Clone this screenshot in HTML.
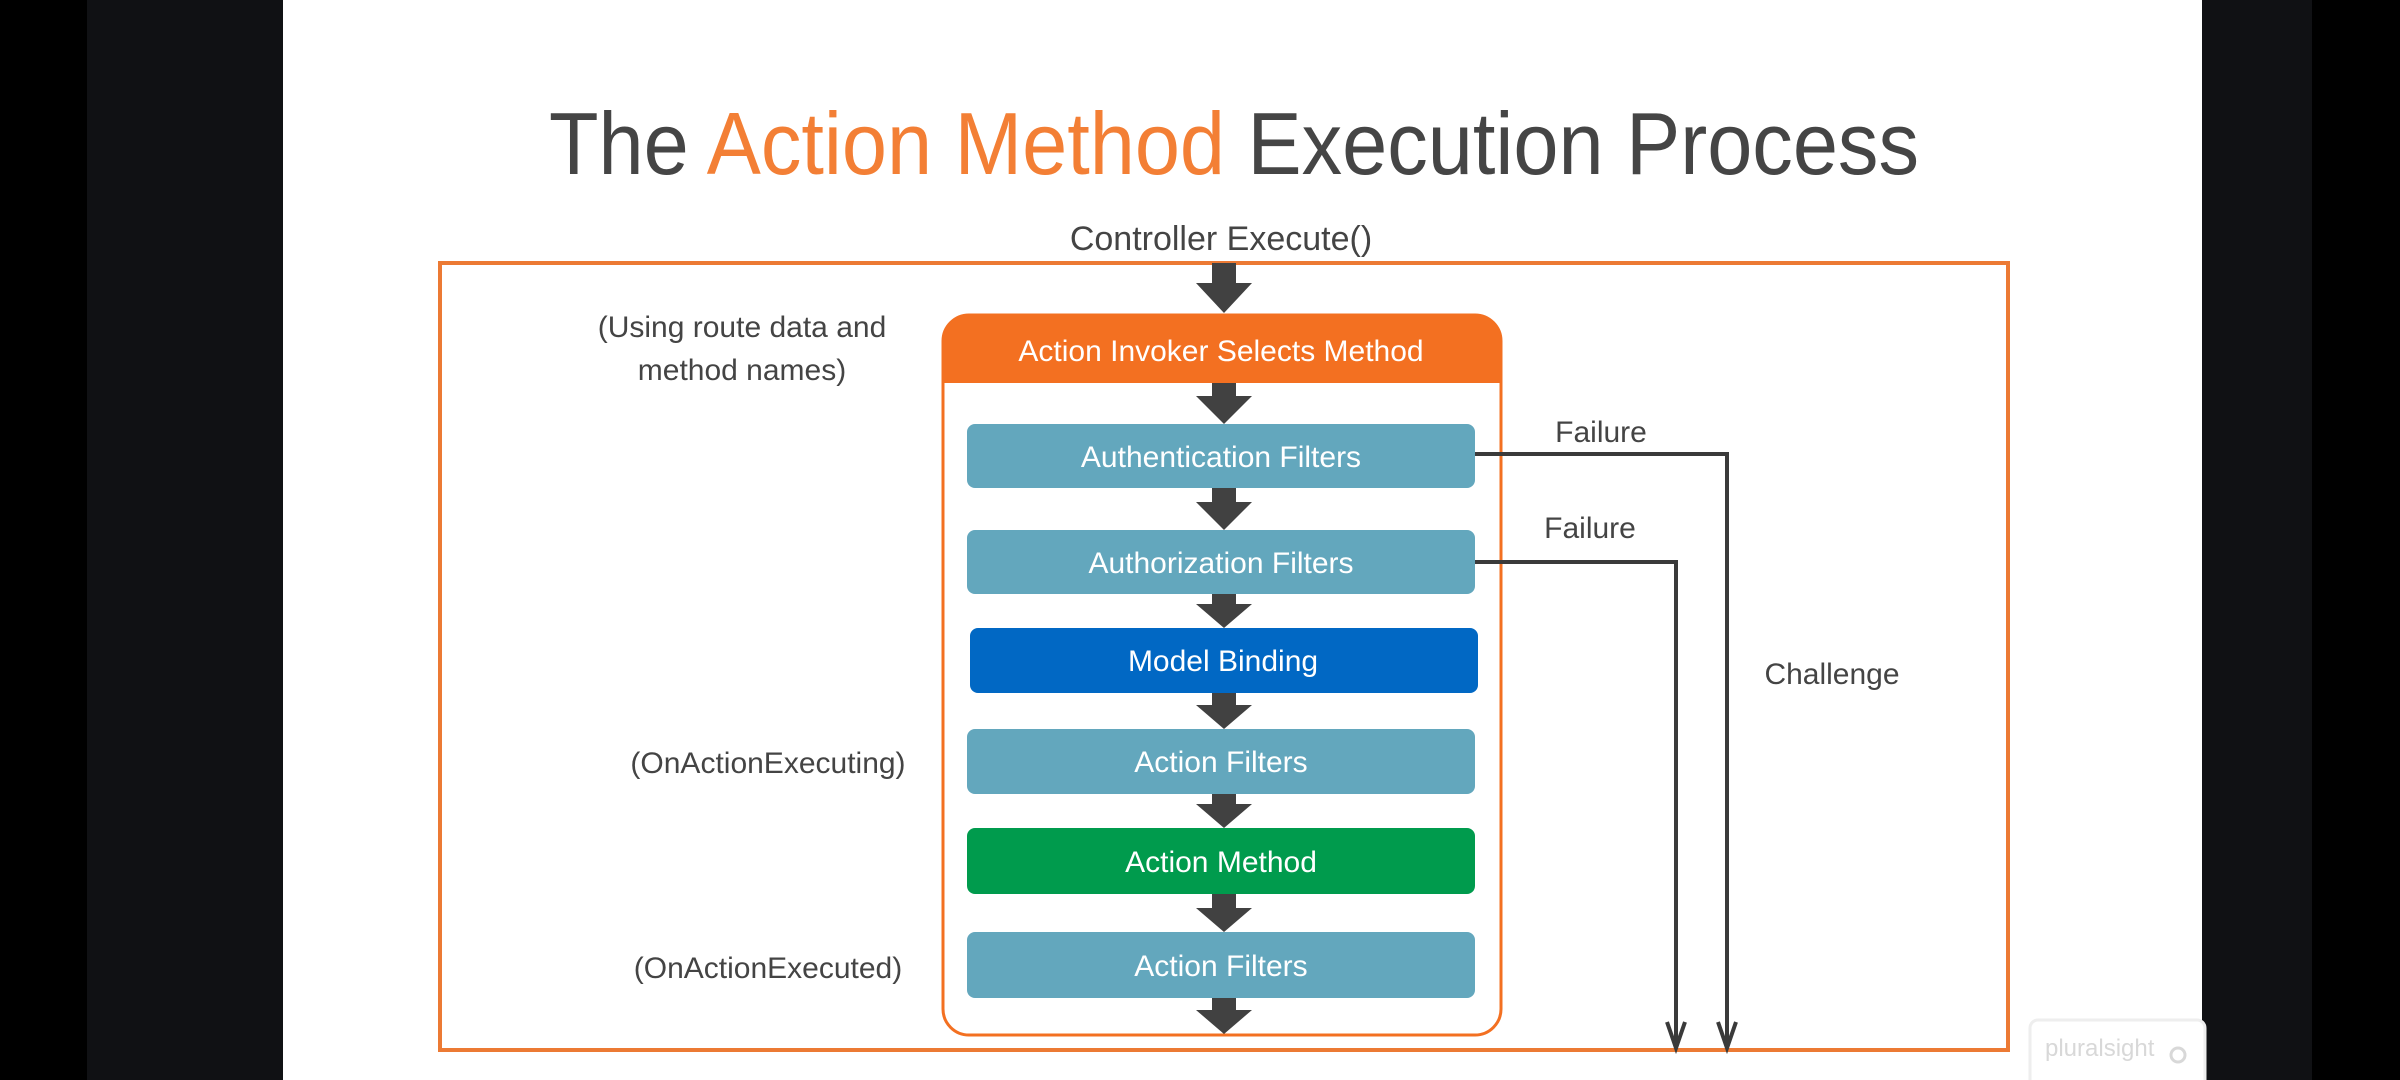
<!DOCTYPE html>
<html><head><meta charset="utf-8"><style>
html,body{margin:0;padding:0;width:2400px;height:1080px;overflow:hidden;background:#000;}
svg{display:block}
text{font-family:"Liberation Sans",sans-serif;}
</style></head><body>
<svg width="2400" height="1080" viewBox="0 0 2400 1080" xmlns="http://www.w3.org/2000/svg">
<rect x="0" y="0" width="2400" height="1080" fill="#000"/>
<rect x="87" y="0" width="196" height="1080" fill="#101114"/>
<rect x="2202" y="0" width="110" height="1080" fill="#101114"/>
<rect x="283" y="0" width="1919" height="1080" fill="#fff"/>

<text x="1234" y="174" font-size="88" text-anchor="middle" fill="#454545" textLength="1370" lengthAdjust="spacingAndGlyphs">The <tspan fill="#f37f35">Action Method</tspan> Execution Process</text>

<text x="1221" y="250" font-size="34" text-anchor="middle" fill="#444">Controller Execute()</text>

<rect x="440" y="263" width="1568" height="787" fill="none" stroke="#ec7a34" stroke-width="4"/>

<rect x="943" y="315" width="558" height="720" rx="26" fill="#fff" stroke="#f37021" stroke-width="3"/>
<path d="M943,383 V341 a26,26 0 0 1 26,-26 H1475 a26,26 0 0 1 26,26 V383 Z" fill="#f37021"/>
<text x="1221" y="361" font-size="30" text-anchor="middle" fill="#fff">Action Invoker Selects Method</text>

<g font-size="30" text-anchor="middle" fill="#fff">
<rect x="967" y="424" width="508" height="64" rx="8" fill="#63a7bd"/>
<text x="1221" y="467">Authentication Filters</text>
<rect x="967" y="530" width="508" height="64" rx="8" fill="#63a7bd"/>
<text x="1221" y="573">Authorization Filters</text>
<rect x="970" y="628" width="508" height="65" rx="8" fill="#0168c4"/>
<text x="1223" y="671">Model Binding</text>
<rect x="967" y="729" width="508" height="65" rx="8" fill="#63a7bd"/>
<text x="1221" y="772">Action Filters</text>
<rect x="967" y="828" width="508" height="66" rx="8" fill="#009b4d"/>
<text x="1221" y="872">Action Method</text>
<rect x="967" y="932" width="508" height="66" rx="8" fill="#63a7bd"/>
<text x="1221" y="976">Action Filters</text>
</g>

<g fill="#414141">
<path d="M1212,263 h24 v20 h16 l-28,30 l-28,-30 h16 z"/>
<path d="M1212,383 h24 v13 h16 l-28,28 l-28,-28 h16 z"/>
<path d="M1212,488 h24 v14 h16 l-28,28 l-28,-28 h16 z"/>
<path d="M1212,594 h24 v10 h16 l-28,24 l-28,-24 h16 z"/>
<path d="M1212,693 h24 v12 h16 l-28,24 l-28,-24 h16 z"/>
<path d="M1212,794 h24 v10 h16 l-28,24 l-28,-24 h16 z"/>
<path d="M1212,894 h24 v14 h16 l-28,24 l-28,-24 h16 z"/>
<path d="M1212,998 h24 v12 h16 l-28,24 l-28,-24 h16 z"/>
</g>

<g fill="none" stroke="#3a3a3a" stroke-width="4">
<path d="M1475,454 H1727 V1046"/>
<path d="M1475,562 H1676 V1046"/>
<path d="M1718,1022 L1727,1048 L1736,1022"/>
<path d="M1667,1022 L1676,1048 L1685,1022"/>
</g>
<g font-size="30" fill="#444" text-anchor="middle">
<text x="1601" y="442">Failure</text>
<text x="1590" y="538">Failure</text>
<text x="1832" y="684">Challenge</text>
<text x="742" y="337">(Using route data and</text>
<text x="742" y="380">method names)</text>
<text x="768" y="773">(OnActionExecuting)</text>
<text x="768" y="978">(OnActionExecuted)</text>
</g>

<rect x="2030" y="1020" width="175" height="70" rx="8" fill="#fff" stroke="#eee" stroke-width="3"/>
<text x="2045" y="1056" font-size="24" fill="#d8d8d8">pluralsight</text>
<circle cx="2178" cy="1055" r="7" fill="none" stroke="#d8d8d8" stroke-width="3"/>
</svg>
</body></html>
